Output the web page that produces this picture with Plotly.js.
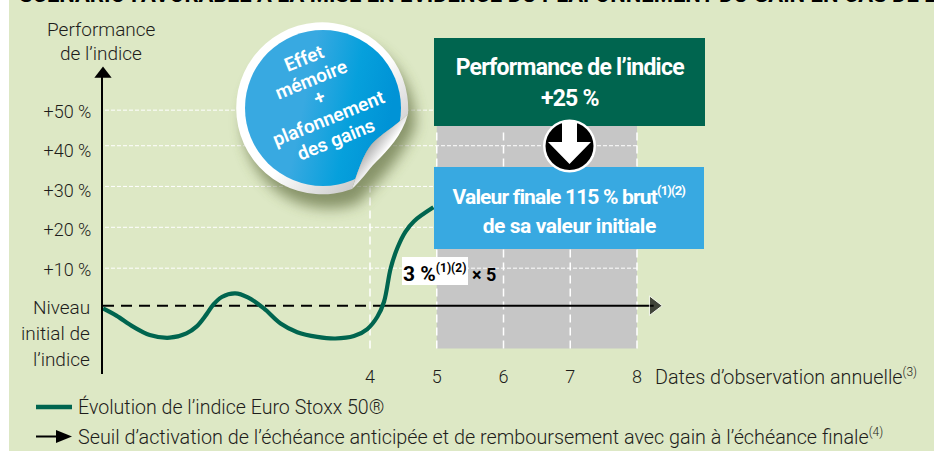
<!DOCTYPE html>
<html><head><meta charset="utf-8">
<script src="https://cdn.plot.ly/plotly-3.0.1.min.js"></script>
<style>html,body{margin:0;padding:0;background:#fff;overflow:hidden}
.annotation[data-index="9"] text,.annotation[data-index="10"] text{letter-spacing:-0.75px}
.annotation[data-index="11"] text{letter-spacing:-0.85px}
.annotation[data-index="12"] text{letter-spacing:-0.45px}
</style>
</head><body><div id="chart" style="width:934px;height:451px"></div>
<script>
// ---- data ----
const indexYears = [0,0.2,0.45,0.7,1.0,1.25,1.4,1.55,1.65,1.78,1.98,2.17,2.41,2.66,2.91,3.21,3.48,3.76,3.96,4.11,4.21,4.31,4.41,4.53,4.66,4.95];
const indexPerf  = [-0.7,-2.5,-5.3,-7.4,-8.1,-7,-5.3,-2.2,0.2,2.2,3.1,2.1,-0.7,-4.5,-6.7,-7.9,-8.3,-7.7,-5.9,-2.8,1,9.5,14.6,18.7,21.4,24.9];
const dashedX = [0,4.2];
const solidX = [4.2,8.25];
const thresholdY = [0,0];
const observationDates = [4,5,6,7,8];
const perfTickVals = [9.1,19.2,29.1,39.2,49.1];
const perfTickText = ['+10 %','+20 %','+30 %','+40 %','+50 %'];
const gridVals = [9.5,19.85,30.2,40.5,49.5];
const gridEnd = [8,8,5,8,5];
const greenDark='#00654f', blue='#38a9e1', grey='#c6c6c6', bg='#dde8c5', ink='#1d1d1b';
const FONT='Roboto, sans-serif';

// ---- page geometry ----
const W=934,H=451,L=103,T=72,B=374;
const sx=66.75, sy=3.95, y0=305.7;
const PX=p=>(p-L)/(W-L), PY=p=>(B-p)/(B-T);

function rect(x0,y0_,x1,y1,c,layer){return {type:'rect',xref:'paper',yref:'paper',x0:PX(x0),x1:PX(x1),y0:PY(y0_),y1:PY(y1),fillcolor:c,line:{width:0},layer:layer||'above'};}
function pth(pts,c,layer){return {type:'path',xref:'paper',yref:'paper',path:'M'+pts.map(p=>PX(p[0])+','+PY(p[1])).join('L')+'Z',fillcolor:c,line:{width:0},layer:layer||'above'};}
function circ(cx,cy,r,c){return {type:'circle',xref:'paper',yref:'paper',x0:PX(cx-r),x1:PX(cx+r),y0:PY(cy-r),y1:PY(cy+r),fillcolor:c,line:{width:0},layer:'above'};}
function note(x,y,text,size,opt){return Object.assign({xref:'paper',yref:'paper',x:PX(x),y:PY(y),text:text,showarrow:false,xanchor:'center',yanchor:'middle',font:{family:FONT,size:size,color:ink,weight:300},borderpad:0},opt||{});}

const shapes=[
  rect(9,0,W,H,bg,'below'),
  {type:'rect',xref:'x',yref:'y',x0:5,x1:8,y0:(y0-348.5)/sy,y1:(y0-126)/sy,fillcolor:grey,line:{width:0},layer:'below'},
];
gridVals.forEach((v,i)=>shapes.push({type:'line',xref:'x',yref:'y',x0:0.03,x1:gridEnd[i],y0:v,y1:v,line:{color:'#fff',width:1,dash:'4px,2px'},layer:'below'}));
observationDates.forEach(d=>shapes.push({type:'line',xref:'x',yref:'y',x0:d,x1:d,y0:(y0-348.5)/sy,y1:d===4?30:45,line:{color:'#fff',width:1.5,dash:'8px,5px'},layer:'below'}));
shapes.push(
  rect(434,38,705,126,greenDark),
  rect(434,167,704,249,blue),
  rect(402,257,468,285,'#fff'),
  circ(569.5,146,26.5,'#fff'),
  circ(569.5,146,24,'#000'),
  pth([[562,122],[577,122],[577,142],[591,142],[569.5,164],[548,142],[562,142]],'#fff'),
  {type:'line',xref:'paper',yref:'paper',x0:PX(36),x1:PX(72),y0:PY(407),y1:PY(407),line:{color:greenDark,width:4.5},layer:'above'},
  {type:'line',xref:'paper',yref:'paper',x0:PX(36),x1:PX(58),y0:PY(436.5),y1:PY(436.5),line:{color:'#000',width:2},layer:'above'},
  pth([[56,430],[72,436.5],[56,443]],'#000')
);

const badge=`<svg xmlns="http://www.w3.org/2000/svg" width="240" height="225" viewBox="215 5 240 225">
<defs>
<filter id="s" x="-30%" y="-30%" width="160%" height="160%"><feGaussianBlur stdDeviation="7"/></filter>
<linearGradient id="r" x1="0" y1="0" x2="1" y2="1"><stop offset="0.55" stop-color="#fff"/><stop offset="1" stop-color="#aaa"/></linearGradient>
<linearGradient id="b" x1="0" y1="0" x2="1" y2="0.2"><stop offset="0.45" stop-color="#38a9e1"/><stop offset="0.75" stop-color="#06a0dc"/><stop offset="1" stop-color="#0093d6"/></linearGradient>
<linearGradient id="c" x1="0" y1="0" x2="1" y2="1"><stop offset="0.38" stop-color="#b5b5b5"/><stop offset="0.55" stop-color="#fff"/><stop offset="0.7" stop-color="#eee"/><stop offset="0.85" stop-color="#b8b8b8"/></linearGradient>
<clipPath id="d"><path d="M408,114 A86,86 0 1 0 352,189 C358,172 364,150 376,140 C386,131 398,124 408,114Z"/></clipPath>
</defs>
<path d="M412,122 A86,86 0 1 0 356,197 C372,178 394,160 412,122Z" fill="#4d5a2a" opacity="0.6" filter="url(#s)" transform="translate(3,6)"/>
<path d="M408,114 A86,86 0 1 0 352,189 C358,172 364,150 376,140 C386,131 398,124 408,114Z" fill="url(#r)"/>
<circle cx="323" cy="108" r="78" fill="url(#b)" clip-path="url(#d)"/>
<path d="M408,114 C398,124 386,131 376,140 C364,150 358,172 352,189 C362,180 368,170 376,162 C388,150 402,136 408,114Z" fill="url(#c)"/>
</svg>`;

const bw=240,bh=225;
const images=[{source:'data:image/svg+xml;charset=utf-8,'+encodeURIComponent(badge),xref:'paper',yref:'paper',x:PX(215),y:PY(5),sizex:bw/(W-L),sizey:bh/(B-T),xanchor:'left',yanchor:'top',sizing:'stretch',layer:'above'}];

const bold={family:FONT,color:'#fff',weight:700};
const sup=(t,s)=>'<sup><span style="font-size:'+s+'px">'+t+'</span></sup>';
const annotations=[
  note(470,-6,'SCÉNARIO FAVORABLE À LA MISE EN ÉVIDENCE DU PLAFONNEMENT DU GAIN EN CAS DE BAISSE',22,{font:{family:FONT,size:22,color:'#000',weight:700},xanchor:'left',x:PX(18)}),
  note(101,29,'Performance',19),
  note(101,54,'de l’indice',19),
  note(91,307,'Niveau',19,{xanchor:'right'}),
  note(91,333,'initial de',19,{xanchor:'right'}),
  note(91,359,'l’indice',19,{xanchor:'right'}),
  note(654,377,'Dates d’observation annuelle'+sup('(3)',12),19.8,{xanchor:'left'}),
  note(77,407,'Évolution de l’indice Euro Stoxx 50®',19.6,{xanchor:'left'}),
  note(77,437,'Seuil d’activation de l’échéance anticipée et de remboursement avec gain à l’échéance finale'+sup('(4)',12),19.8,{xanchor:'left'}),
  note(569.5,67,'Performance de l’indice',23,{font:Object.assign({size:23},bold)}),
  note(569.5,98,'+25 %',23,{font:Object.assign({size:23},bold)}),
  note(569,196,'Valeur finale 115 % brut'+sup('(1)(2)',13),21,{font:Object.assign({size:21},bold)}),
  note(569,226,'de sa valeur initiale',21,{font:Object.assign({size:21},bold)}),
  note(434,273,'<b>3 %</b>'+sup('<b>(1)(2)</b>',12),21,{font:{family:FONT,size:21,color:'#000',weight:700}}),
  note(484,274,'<b>× 5</b>',18,{font:{family:FONT,size:18,color:'#000',weight:700}}),
];
[['Effet',304,59],['mémoire',311,79],['+',319,97],['plafonnement',328,118],['des gains',336,139]].forEach(t=>{
  annotations.push(note(t[1],t[2],t[0],19,{textangle:-22,font:{family:FONT,size:19,color:'#fff',weight:600}}));
});

const traces=[
 {x:dashedX,y:thresholdY,mode:'lines',line:{color:'#000',width:2,dash:'11px,7px'},hoverinfo:'skip'},
 {x:solidX,y:thresholdY,mode:'lines+markers',line:{color:'#000',width:2},marker:{symbol:'triangle-right',size:[0,17],color:'#000'},cliponaxis:false,hoverinfo:'skip'},
 {x:[0],y:[(y0-74)/sy],mode:'markers',marker:{symbol:'triangle-up',size:15,color:'#000'},cliponaxis:false,hoverinfo:'skip'},
 {x:indexYears,y:indexPerf,mode:'lines',line:{color:greenDark,width:4.2,shape:'spline',smoothing:1},cliponaxis:false},
];

Plotly.newPlot('chart',traces,{
  width:W,height:H,showlegend:false,
  margin:{l:L,r:0,t:T,b:H-B,pad:0},
  paper_bgcolor:'#fff',plot_bgcolor:'rgba(0,0,0,0)',
  font:{family:FONT,color:ink,size:18,weight:300},
  xaxis:{range:[0,(W-L)/sx],tickmode:'array',tickvals:observationDates,ticktext:observationDates.map(String),showgrid:false,zeroline:false,showline:false,ticks:'',ticklabelstandoff:-10,tickfont:{family:FONT,size:18,color:ink,weight:300}},
  yaxis:{range:[(y0-B)/sy,(y0-T)/sy],tickmode:'array',tickvals:perfTickVals,ticktext:perfTickText,showgrid:false,zeroline:false,showline:true,linecolor:'#000',linewidth:2,ticks:'',ticklabelstandoff:6,tickfont:{family:FONT,size:18,color:ink,weight:300}},
  shapes:shapes,annotations:annotations,images:images
},{displayModeBar:false,staticPlot:true});
</script></body></html>
